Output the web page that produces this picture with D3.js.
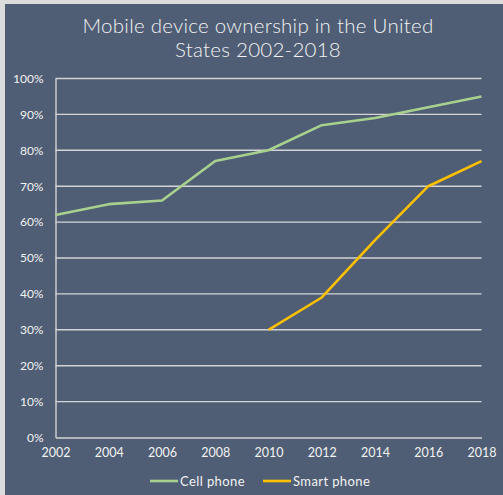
<!DOCTYPE html>
<html>
<head>
<meta charset="utf-8">
<script src="https://cdn.jsdelivr.net/npm/d3@7"></script>
<style>
  html, body { margin: 0; padding: 0; background: #e6e6e6; }
  svg { display: block; }
  text { font-family: "Lato", "Open Sans", sans-serif; fill: #f2f2f2; }
</style>
</head>
<body>
<svg id="chart" width="503" height="495"></svg>
<script>
// Years on the x axis
const years = [2002, 2004, 2006, 2008, 2010, 2012, 2014, 2016, 2018];
// Share of US adults owning a cell phone (%)
const cellPhone = [62, 65, 66, 77, 80, 87, 89, 92, 95];
// Share owning a smartphone (%), tracked from 2010
const smartYears = [2010, 2012, 2014, 2016, 2018];
const smartPhone = [30, 39, 55, 70, 77];
const yTicks = [0, 10, 20, 30, 40, 50, 60, 70, 80, 90, 100];
const seriesNames = ["Cell phone", "Smart phone"];
const seriesColors = ["#a9d18e", "#ffc000"];

const W = 503, H = 495;
const svg = d3.select("#chart");

// background panel with a thin light frame at top and left
svg.append("rect").attr("x", 0).attr("y", 0).attr("width", W).attr("height", H).attr("fill", "#dcdcdc");
svg.append("rect").attr("x", 5).attr("y", 4).attr("width", W - 5).attr("height", H - 4).attr("fill", "#4f5e75");

const x = d3.scaleLinear().domain([2002, 2018]).range([55.5, 481.5]);
const y = d3.scaleLinear().domain([0, 100]).range([437.5, 78.5]);

// title, two lines
const titleLines = ["Mobile device ownership in the United", "States 2002-2018"];
svg.append("g").selectAll("text").data(titleLines).join("text")
  .attr("text-anchor", "middle")
  .attr("x", 258).attr("y", (d, i) => 33 + i * 24)
  .attr("font-size", 20.5).attr("font-weight", 300).attr("letter-spacing", 0.25)
  .text(d => d);

// horizontal gridlines
svg.append("g").selectAll("line").data(yTicks.filter(d => d > 0)).join("line")
  .attr("x1", x(2002)).attr("x2", x(2018))
  .attr("y1", d => y(d)).attr("y2", d => y(d))
  .attr("stroke", "#d4d4d4").attr("stroke-width", 1.4);

// y axis
const yAxis = d3.axisLeft(y).tickValues(yTicks).tickFormat(d => d + "%").tickSize(0).tickPadding(12);
const gy = svg.append("g").attr("transform", `translate(${x(2002)},0)`).call(yAxis);
gy.select(".domain").attr("stroke", "#d4d4d4").attr("stroke-width", 1.4);
gy.selectAll("text").attr("font-size", 12).attr("fill", "#f2f2f2").attr("font-family", "Lato, sans-serif");

// x axis
const xAxis = d3.axisBottom(x).tickValues(years).tickFormat(d3.format("d")).tickSize(0).tickPadding(11);
const gx = svg.append("g").attr("transform", `translate(0,${y(0)})`).call(xAxis);
gx.select(".domain").attr("stroke", "#d4d4d4").attr("stroke-width", 1.4);
gx.selectAll("text").attr("font-size", 12.5).attr("fill", "#f2f2f2").attr("font-family", "Lato, sans-serif");

// series lines
const line = d3.line().x(d => x(d[0])).y(d => y(d[1]));
const series = [
  d3.zip(years, cellPhone),
  d3.zip(smartYears, smartPhone)
];
svg.append("g").selectAll("path").data(series).join("path")
  .attr("d", line)
  .attr("fill", "none")
  .attr("stroke", (d, i) => seriesColors[i])
  .attr("stroke-width", 2.6)
  .attr("stroke-linejoin", "round");

// legend
const legendX = [150, 263];
const lg = svg.append("g").selectAll("g").data(seriesNames).join("g")
  .attr("transform", (d, i) => `translate(${legendX[i]},481)`);
lg.append("line").attr("x1", 0).attr("x2", 28).attr("y1", 0).attr("y2", 0)
  .attr("stroke", (d, i) => seriesColors[i]).attr("stroke-width", 2.6);
lg.append("text").attr("x", 30).attr("y", 4.5).attr("font-size", 13).attr("letter-spacing", 0.4).text(d => d);
</script>
</body>
</html>
